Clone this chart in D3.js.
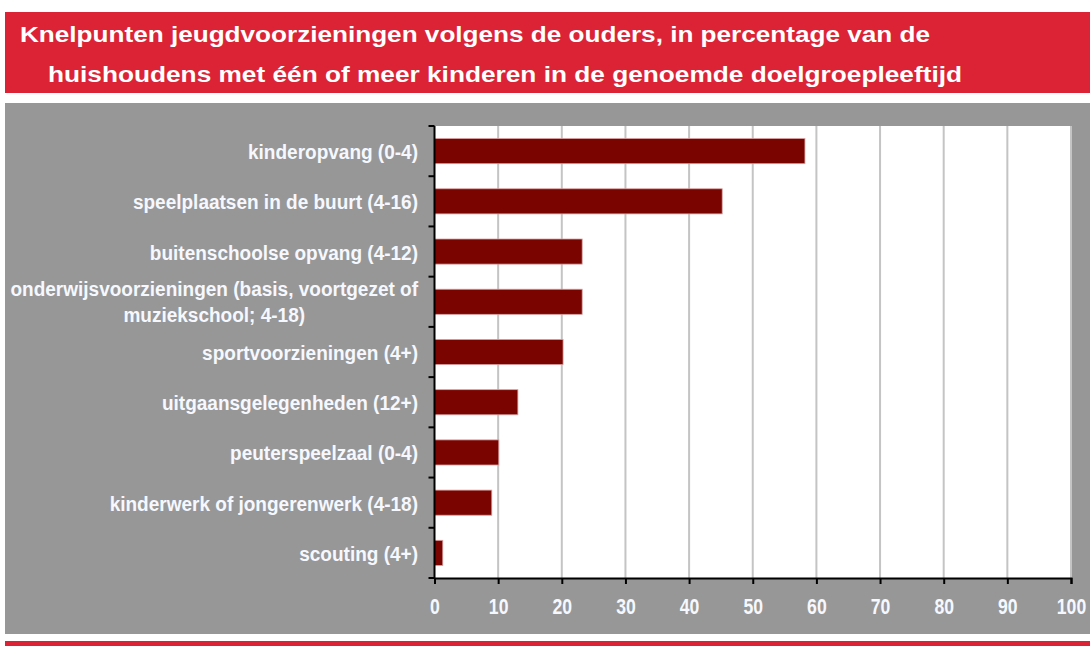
<!DOCTYPE html>
<html>
<head>
<meta charset="utf-8">
<script src="https://cdn.jsdelivr.net/npm/d3@7"></script>
<style>
  body { margin: 0; background: #fff; }
  svg text { font-family: "Liberation Sans", Arial, sans-serif; }
</style>
</head>
<body>
<svg id="chart" width="1090" height="646"></svg>
<script>
// chart data
const categories = [
  "kinderopvang (0-4)",
  "speelplaatsen in de buurt (4-16)",
  "buitenschoolse opvang (4-12)",
  "onderwijsvoorzieningen (basis, voortgezet of|muziekschool; 4-18)",
  "sportvoorzieningen (4+)",
  "uitgaansgelegenheden (12+)",
  "peuterspeelzaal (0-4)",
  "kinderwerk of jongerenwerk (4-18)",
  "scouting (4+)"
];
const values = [58.2, 45.2, 23.2, 23.2, 20.2, 13.1, 10.1, 9.0, 1.3];
const xTicks = [0, 10, 20, 30, 40, 50, 60, 70, 80, 90, 100];
const titleLines = [
  "Knelpunten jeugdvoorzieningen volgens de ouders, in percentage van de",
  "huishoudens met één of meer kinderen in de genoemde doelgroepleeftijd"
];

var svg = d3.select("svg#chart");

// squeeze text a bit horizontally, like the pdf font
function squeeze(sel, f) {
  sel.each(function () {
    var w = this.getComputedTextLength();
    d3.select(this).attr("textLength", w * f).attr("lengthAdjust", "spacingAndGlyphs");
  });
}

// title band
svg.append("rect").attr("x", 5).attr("y", 12).attr("width", 1085).attr("height", 81).attr("fill", "#dc2336");
svg.append("text").attr("x", 20).attr("y", 42)
  .attr("fill", "#fff").attr("font-size", 22).attr("font-weight", "bold")
  .attr("textLength", 910).attr("lengthAdjust", "spacingAndGlyphs")
  .text(titleLines[0]);
svg.append("text").attr("x", 48).attr("y", 82)
  .attr("fill", "#fff").attr("font-size", 22).attr("font-weight", "bold")
  .attr("textLength", 914).attr("lengthAdjust", "spacingAndGlyphs")
  .text(titleLines[1]);

// gray panel
svg.append("rect").attr("x", 5).attr("y", 103).attr("width", 1085).attr("height", 531).attr("fill", "#979797");
// bottom red rule
svg.append("rect").attr("x", 5).attr("y", 641).attr("width", 1085).attr("height", 5).attr("fill", "#dc2336");

var plotLeft = 434.5, plotRight = 1071, plotTop = 126, plotBottom = 578;

var x = d3.scaleLinear().domain([0, 100]).range([plotLeft, plotRight]);
var y = d3.scaleBand().domain(categories).range([plotTop, plotBottom]).paddingInner(0.5).paddingOuter(0.25);

// plot area
svg.append("rect").attr("x", plotLeft).attr("y", plotTop)
  .attr("width", plotRight - plotLeft).attr("height", plotBottom - plotTop).attr("fill", "#fff");

// gridlines
svg.append("g").selectAll("line").data(xTicks.slice(1)).enter().append("line")
  .attr("x1", (d) => x(d)).attr("x2", (d) => x(d))
  .attr("y1", plotTop).attr("y2", plotBottom)
  .attr("stroke", "#c4c4c4").attr("stroke-width", 2);

// bars
svg.append("g").selectAll("rect").data(values).enter().append("rect")
  .attr("x", x(0))
  .attr("y", (d, i) => y(categories[i]))
  .attr("width", (d) => x(d) - x(0))
  .attr("height", y.bandwidth())
  .attr("fill", "#7a0500")
  .attr("stroke", "#d9a0a0").attr("stroke-width", 0.8);

// x axis
var xAxis = svg.append("g").attr("transform", "translate(0," + plotBottom + ")")
  .call(d3.axisBottom(x).tickValues(xTicks).tickSize(6).tickPadding(14).tickFormat(d3.format("d")));
xAxis.select(".domain").attr("stroke", "#000").attr("stroke-width", 2);
xAxis.selectAll(".tick line").attr("stroke", "#000").attr("stroke-width", 2);
xAxis.selectAll("text").attr("fill", "#f6f8ff").attr("font-size", 22).attr("font-weight", "bold")
  .style("font-family", "Liberation Sans, Arial, sans-serif");
squeeze(xAxis.selectAll("text"), 0.8);

// y axis line and ticks at band edges
svg.append("line").attr("x1", plotLeft).attr("x2", plotLeft).attr("y1", plotTop).attr("y2", plotBottom)
  .attr("stroke", "#000").attr("stroke-width", 2);
var step = (plotBottom - plotTop) / categories.length;
svg.append("g").selectAll("line").data(d3.range(categories.length + 1)).enter().append("line")
  .attr("x1", plotLeft - 6).attr("x2", plotLeft)
  .attr("y1", (d) => plotTop + d * step).attr("y2", (d) => plotTop + d * step)
  .attr("stroke", "#000").attr("stroke-width", 2);

// category labels
var labels = svg.append("g");
var labelX = 418, labelSize = 20, labelF = 0.95;
categories.forEach(function (c, i) {
  var parts = c.split("|");
  var cy = y(c) + y.bandwidth() / 2;
  if (parts.length == 1) {
    var t = labels.append("text").attr("x", labelX).attr("y", cy + 8)
      .attr("text-anchor", "end").attr("fill", "#f6f8ff")
      .attr("font-size", labelSize).attr("font-weight", "bold").text(c);
    squeeze(t, labelF);
  } else {
    var t1 = labels.append("text").attr("x", labelX).attr("y", cy - 6)
      .attr("text-anchor", "end").attr("fill", "#f6f8ff")
      .attr("font-size", labelSize).attr("font-weight", "bold").text(parts[0]);
    squeeze(t1, labelF);
    var w = t1.node().getComputedTextLength();
    var t2 = labels.append("text").attr("x", labelX - w / 2).attr("y", cy + 20)
      .attr("text-anchor", "middle").attr("fill", "#f6f8ff")
      .attr("font-size", labelSize).attr("font-weight", "bold").text(parts[1]);
    squeeze(t2, labelF);
  }
});
</script>
</body>
</html>
